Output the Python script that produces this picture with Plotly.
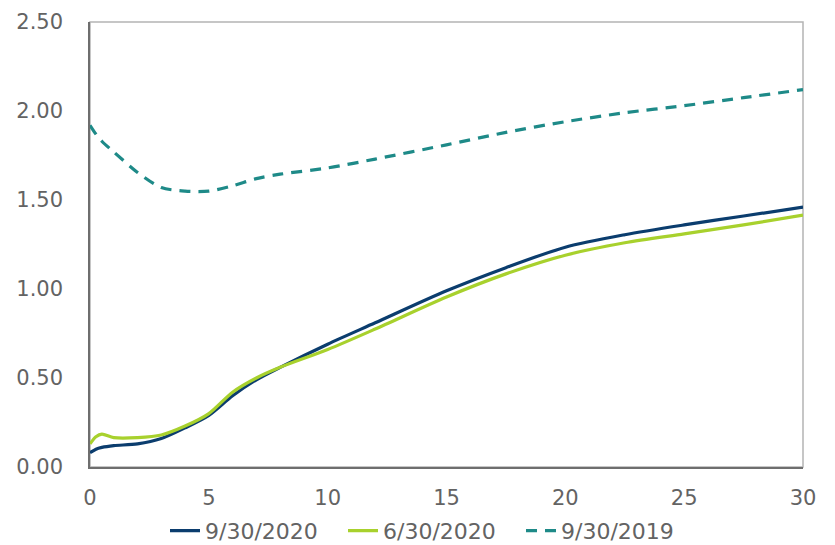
import plotly.graph_objects as go

# Maturity (years) and yields (%)
maturity = [0, 0.25, 0.5, 1, 2, 3, 4, 5, 6, 7, 8, 10, 12, 15, 17.5, 20, 22.5, 25, 27.5, 30]
yield_2020_09 = [0.08, 0.10, 0.11, 0.12, 0.13, 0.16, 0.22, 0.29, 0.40, 0.49, 0.56, 0.69, 0.81, 0.99, 1.12, 1.235, 1.305, 1.36, 1.41, 1.46]
yield_2020_06 = [0.13, 0.17, 0.185, 0.165, 0.165, 0.18, 0.23, 0.30, 0.42, 0.50, 0.56, 0.66, 0.775, 0.955, 1.085, 1.19, 1.26, 1.31, 1.36, 1.415]
yield_2019_09 = [1.92, 1.87, 1.83, 1.77, 1.655, 1.57, 1.55, 1.55, 1.58, 1.62, 1.645, 1.68, 1.73, 1.81, 1.88, 1.94, 1.99, 2.03, 2.075, 2.12]

series_names = ["9/30/2020", "6/30/2020", "9/30/2019"]
x_ticks = [0, 5, 10, 15, 20, 25, 30]
y_ticks = [0, 0.5, 1.0, 1.5, 2.0, 2.5]

fig = go.Figure()
fig.add_trace(go.Scatter(x=maturity, y=yield_2020_09, name=series_names[0], mode="lines",
                         line=dict(color="#0b3d6e", width=3.2, shape="spline", smoothing=0.8)))
fig.add_trace(go.Scatter(x=maturity, y=yield_2020_06, name=series_names[1], mode="lines",
                         line=dict(color="#a8d12d", width=3.2, shape="spline", smoothing=0.8)))
fig.add_trace(go.Scatter(x=maturity, y=yield_2019_09, name=series_names[2], mode="lines",
                         line=dict(color="#1e8a88", width=3.2, dash="11px,8px", shape="spline", smoothing=0.8)))

tick_font = dict(family="DejaVu Sans, Verdana, sans-serif", size=21, color="#636363")
legend_font = dict(family="DejaVu Sans, Verdana, sans-serif", size=22, color="#636363")

fig.update_layout(
    width=835, height=545,
    margin=dict(l=90, r=32, t=22, b=78, autoexpand=False),
    paper_bgcolor="white", plot_bgcolor="white",
    font=tick_font,
    showlegend=True,
    legend=dict(orientation="h", xref="container", yref="container",
                x=165 / 835, xanchor="left", y=0.026, yanchor="middle",
                font=legend_font, itemwidth=30, entrywidth=133, entrywidthmode="pixels",
                tracegroupgap=0, bgcolor="rgba(0,0,0,0)"),
    xaxis=dict(range=[0, 30], tickvals=x_ticks, ticktext=[str(v) for v in x_ticks],
               showgrid=False, zeroline=False, showline=True, linecolor="#6e6e6e", linewidth=1.5,
               ticks="", ticklabelstandoff=11, tickfont=tick_font),
    yaxis=dict(range=[0, 2.5], tickvals=y_ticks, ticktext=[f"{v:.2f}" for v in y_ticks],
               showgrid=False, zeroline=False, showline=True, linecolor="#6e6e6e", linewidth=1.5,
               ticks="", ticklabelstandoff=21, tickfont=tick_font),
    shapes=[dict(type="rect", xref="paper", yref="paper", x0=0, x1=1, y0=0, y1=1,
                 line=dict(color="#b4b4b4", width=1.5), layer="below")],
)

fig.write_html("out.html")
